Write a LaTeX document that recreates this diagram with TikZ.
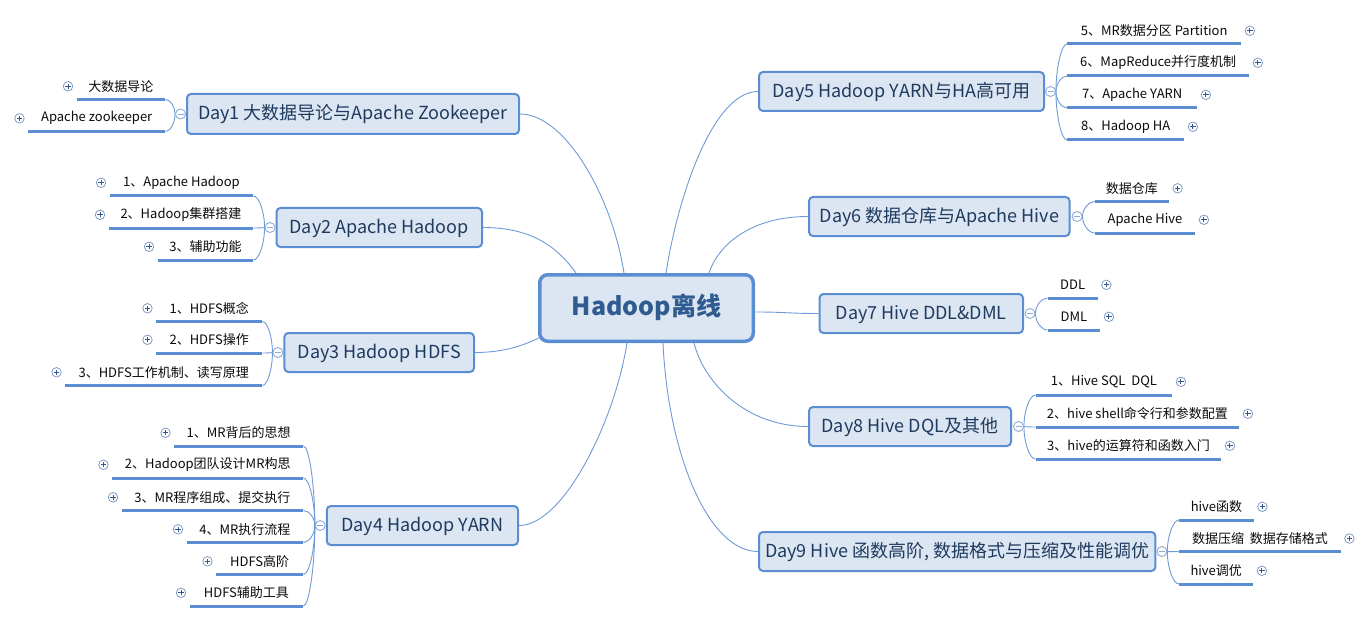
\documentclass[tikz,border=0pt]{standalone}
\usepackage{fontspec}
\setmainfont{Noto Sans CJK SC}
\usetikzlibrary{calc,backgrounds}
\definecolor{lineblue}{HTML}{5B8DD2}
\definecolor{linkblue}{HTML}{6E9AD6}
\definecolor{dayfill}{HTML}{DCE6F2}
\definecolor{daytext}{HTML}{1F3A5F}
\definecolor{hubtext}{HTML}{2F5B90}
\definecolor{leaftext}{HTML}{0A0A0A}
\definecolor{iconring}{HTML}{7F9CC8}
\definecolor{iconsign}{HTML}{34558A}
\definecolor{minusring}{HTML}{8FACD8}
\begin{document}
\begin{tikzpicture}[x=1pt,y=-1pt,
  hub/.style={draw=lineblue, line width=3.5pt, fill=dayfill, rounded corners=8pt,
    minimum width=213.5pt, minimum height=66.5pt, inner sep=0pt,
    text height=19pt, text depth=4pt,
    font=\fontsize{25}{30}\selectfont\bfseries, text=hubtext},
  daybox/.style={draw=lineblue, line width=2pt, fill=dayfill, rounded corners=4pt,
    minimum height=39pt, inner sep=0pt, text height=15.5pt, text depth=3.5pt,
    font=\fontsize{18}{22}\selectfont, text=daytext},
  leaf/.style={minimum height=26pt, inner sep=0pt, font=\fontsize{13}{16}\selectfont, text=leaftext},
  uline/.style={draw=lineblue, line width=3pt},
  link/.style={draw=linkblue, line width=0.9pt},
  br/.style={link, to path={.. controls ($(\tikztostart)!0.5!(\tikztotarget |- \tikztostart)$)
      and ($(\tikztotarget)!0.5!(\tikztotarget |- \tikztostart)$) .. (\tikztotarget)}},
  plusic/.style={circle, draw=iconring, fill=white, line width=0.8pt, minimum size=9.5pt, inner sep=0pt,
    path picture={\draw[iconsign, line width=0.9pt]
      ([xshift=-2.6pt]path picture bounding box.center) -- ([xshift=2.6pt]path picture bounding box.center)
      ([yshift=-2.6pt]path picture bounding box.center) -- ([yshift=2.6pt]path picture bounding box.center);}},
  minusic/.style={circle, draw=minusring, fill=white, line width=0.9pt, minimum size=10pt, inner sep=0pt,
    path picture={\draw[minusring, line width=0.9pt]
      ([xshift=-3pt]path picture bounding box.center) -- ([xshift=3pt]path picture bounding box.center);}}
]
\useasboundingbox (0,0) rectangle (1369,623);

% hub
\node[hub] (hub) at (646.5,308) {Hadoop离线};

% day nodes
\node[daybox, minimum width=332pt, minimum height=40pt] (d1) at (353,114) {Day1 大数据导论与Apache Zookeeper};
\node[daybox, minimum width=205.5pt] (d2) at (379.25,227.5) {Day2 Apache Hadoop};
\node[daybox, minimum width=189.6pt] (d3) at (379.2,352.5) {Day3 Hadoop HDFS};
\node[daybox, minimum width=191.2pt] (d4) at (422.4,525.5) {Day4 Hadoop YARN};
\node[daybox, minimum width=285pt] (d5) at (901.5,91.5) {Day5 Hadoop YARN与HA高可用};
\node[daybox, minimum width=260.6pt] (d6) at (939.3,216.5) {Day6 数据仓库与Apache Hive};
\node[daybox, minimum width=203.5pt] (d7) at (921.25,313.5) {Day7 Hive DDL\&DML};
\node[daybox, minimum width=202pt] (d8) at (910,426.5) {Day8 Hive DQL及其他};
\node[daybox, minimum width=396.4pt] (d9) at (957.2,551.5) {Day9 Hive 函数高阶, 数据格式与压缩及性能调优};

% hub anchor points
\coordinate (c1) at ($(hub.center)+(-22.5,-35)$);
\coordinate (c2) at ($(hub.center)+(-70.5,-35)$);
\coordinate (c3) at ($(hub.center)+(-107.5,30)$);
\coordinate (c4) at ($(hub.center)+(-19.5,35)$);
\coordinate (c5) at ($(hub.center)+(19.5,-35)$);
\coordinate (c6) at ($(hub.center)+(62.5,-35)$);
\coordinate (c7) at ($(hub.center)+(109.5,4)$);
\coordinate (c8) at ($(hub.center)+(47.5,35)$);
\coordinate (c9) at ($(hub.center)+(16.5,35)$);

\begin{scope}[on background layer]
\draw[link] (d1.east) .. controls +(45,0) and +(-12,-77) .. (c1);
\draw[link] (d2.east) .. controls +(50,0) and +(-18,-25) .. (c2);
\draw[link] (d3.east) .. controls +(30,0) and +(-15,7) .. (c3);
\draw[link] (d4.east) .. controls +(45,0) and +(-12,77) .. (c4);
\draw[link] (d5.west) .. controls +(-45,0) and +(12,-77) .. (c5);
\draw[link] (d6.west) .. controls +(-55,0) and +(10,-30) .. (c6);
\draw[link] (c7) .. controls +(30,0) and +(-30,0) .. (d7.west);
\draw[link] (c8) .. controls +(10,40) and +(-62,0) .. (d8.west);
\draw[link] (c9) .. controls +(5,110) and +(-50,0) .. (d9.west);
\end{scope}

% ---------- left leaves ----------
% Day1
\node[leaf, minimum width=88.5pt, anchor=south west] (l11) at (76.5,99.5) {大数据导论};
\node[leaf, minimum width=137pt, anchor=south west] (l12) at (28,131.5) {Apache zookeeper};
% Day2
\node[leaf, minimum width=143.5pt, anchor=south west] (l21) at (109.5,196) {1、Apache Hadoop};
\node[leaf, minimum width=144.5pt, anchor=south west] (l22) at (108.5,228) {2、Hadoop集群搭建};
\node[leaf, minimum width=95.5pt, anchor=south west] (l23) at (157.5,260) {3、辅助功能};
% Day3
\node[leaf, minimum width=106pt, anchor=south west] (l31) at (156,321.5) {1、HDFS概念};
\node[leaf, minimum width=106pt, anchor=south west] (l32) at (156,353) {2、HDFS操作};
\node[leaf, minimum width=197pt, anchor=south west] (l33) at (65,385.5) {3、HDFS工作机制、读写原理};
% Day4
\node[leaf, minimum width=129pt, anchor=south west] (l41) at (174,446) {1、MR背后的思想};
\node[leaf, minimum width=191pt, anchor=south west] (l42) at (112,478) {2、Hadoop团队设计MR构思};
\node[leaf, minimum width=181.5pt, anchor=south west] (l43) at (121.5,510.5) {3、MR程序组成、提交执行};
\node[leaf, minimum width=116.5pt, anchor=south west] (l44) at (186.5,542.5) {4、MR执行流程};
\node[leaf, minimum width=87pt, anchor=south west] (l45) at (216,574.5) {HDFS高阶};
\node[leaf, minimum width=113.5pt, anchor=south west] (l46) at (189.5,606) {HDFS辅助工具};

% ---------- right leaves ----------
% Day5
\node[leaf, minimum width=174pt, anchor=south west] (l51) at (1067,44) {5、MR数据分区 Partition};
\node[leaf, minimum width=182pt, anchor=south west] (l52) at (1067,76) {6、MapReduce并行度机制};
\node[leaf, minimum width=130pt, anchor=south west] (l53) at (1067,108) {7、Apache YARN};
\node[leaf, minimum width=117pt, anchor=south west] (l54) at (1067,140) {8、Hadoop HA};
% Day6
\node[leaf, minimum width=74pt, anchor=south west] (l61) at (1094.7,201.5) {数据仓库};
\node[leaf, minimum width=100.3pt, anchor=south west] (l62) at (1094.7,233) {Apache Hive};
% Day7
\node[leaf, minimum width=50pt, anchor=south west] (l71) at (1047.5,298) {DDL};
\node[leaf, minimum width=52.5pt, anchor=south west] (l72) at (1047.5,330) {DML};
% Day8
\node[leaf, minimum width=136.5pt, anchor=south west] (l81) at (1035.5,395) {1、Hive SQL\ \ DQL};
\node[leaf, minimum width=203.5pt, anchor=south west] (l82) at (1035.5,427) {2、hive shell命令行和参数配置};
\node[leaf, minimum width=185.5pt, anchor=south west] (l83) at (1035.5,459) {3、hive的运算符和函数入门};
% Day9
\node[leaf, minimum width=74.5pt, anchor=south west] (l91) at (1179,520) {hive函数};
\node[leaf, minimum width=161.5pt, anchor=south west] (l92) at (1179,551.7) {数据压缩\ \ 数据存储格式};
\node[leaf, minimum width=74pt, anchor=south west] (l93) at (1179,584) {hive调优};

% minus icons
\node[minusic] (m1) at ($(d1.west)+(-5.5,0)$) {};
\node[minusic] (m2) at ($(d2.west)+(-5.5,0)$) {};
\node[minusic] (m3) at ($(d3.west)+(-5.5,0)$) {};
\node[minusic] (m4) at ($(d4.west)+(-5.5,0)$) {};
\node[minusic] (m5) at ($(d5.east)+(5.5,0)$) {};
\node[minusic] (m6) at ($(d6.east)+(6.5,0)$) {};
\node[minusic] (m7) at ($(d7.east)+(6,0)$) {};
\node[minusic] (m8) at ($(d8.east)+(6.5,0)$) {};
\node[minusic] (m9) at ($(d9.east)+(5.5,0)$) {};

% brackets left
\foreach \n in {11,12} \draw[br] (l\n.south east) to (m1.west);
\foreach \n in {21,22,23} \draw[br] (l\n.south east) to (m2.west);
\foreach \n in {31,32,33} \draw[br] (l\n.south east) to (m3.west);
\foreach \n in {41,42,43,44,45,46} \draw[br] (l\n.south east) to (m4.west);
% brackets right
\foreach \n in {51,52,53,54} \draw[br] (l\n.south west) to (m5.east);
\foreach \n in {61,62} \draw[br] (l\n.south west) to (m6.east);
\foreach \n in {71,72} \draw[br] (l\n.south west) to (m7.east);
\foreach \n in {81,82,83} \draw[br] (l\n.south west) to (m8.east);
\foreach \n in {91,92,93} \draw[br] (l\n.south west) to (m9.east);

% underlines
\foreach \n in {11,12,21,22,23,31,32,33,41,42,43,44,45,46,51,52,53,54,61,62,71,72,81,82,83,91,92,93}
  \draw[uline] (l\n.south west) -- (l\n.south east);

% plus icons left
\foreach \n in {11,12,21,22,23,31,32,33,41,42,43,44,45,46}
  \node[plusic] (p\n) at ($(l\n.west)+(-8.5,0)$) {};
% plus icons right
\foreach \n in {51,52,53,54,61,62,71,72,81,82,83,91,92,93}
  \node[plusic] (p\n) at ($(l\n.east)+(8.5,0)$) {};
\end{tikzpicture}
\end{document}
